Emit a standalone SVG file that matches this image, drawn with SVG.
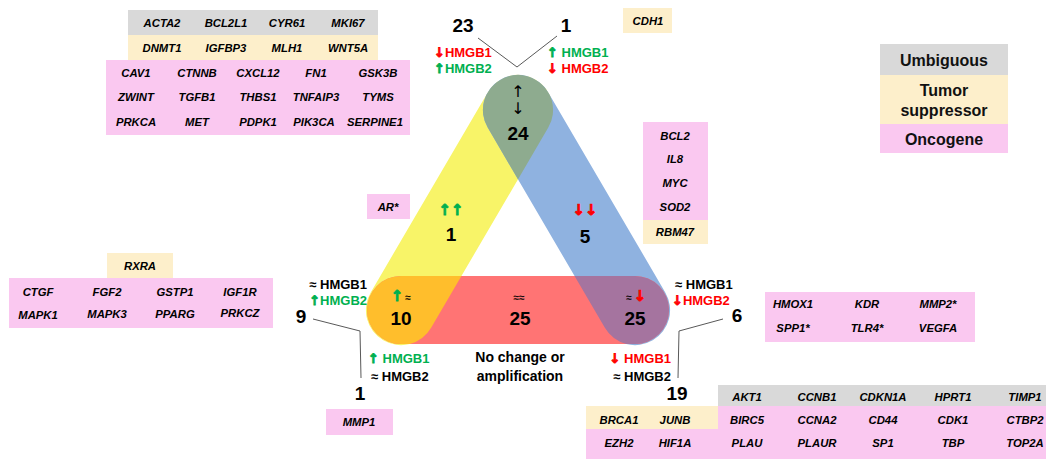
<svg xmlns="http://www.w3.org/2000/svg" width="1046" height="459" viewBox="0 0 1046 459">
<style>
.gn{font-family:"Liberation Sans",Arial,sans-serif;font-size:11.3px;font-weight:bold;font-style:italic;fill:#000;text-anchor:middle;dominant-baseline:central}
.num{font-family:"Liberation Sans",Arial,sans-serif;font-size:19px;font-weight:bold;fill:#000;text-anchor:middle;dominant-baseline:central}
.lab{font-family:"Liberation Sans",Arial,sans-serif;font-size:13px;font-weight:bold;dominant-baseline:central}
.ar{font-family:"DejaVu Sans",sans-serif;font-size:13px;font-weight:bold;stroke-width:0.8}
.arr{font-family:"DejaVu Sans",sans-serif;font-size:15px;font-weight:bold;text-anchor:middle;dominant-baseline:central;stroke-width:0.8}
.sm{font-family:"Liberation Sans",Arial,sans-serif;font-size:10px;font-weight:bold;text-anchor:middle;dominant-baseline:central}
.leg{font-family:"Liberation Sans",Arial,sans-serif;font-size:16px;font-weight:bold;fill:#111;text-anchor:middle;dominant-baseline:central}
.gray{fill:#d9d9d9}.beige{fill:#fdefcb}.pink{fill:#fac8f0}
.red{fill:#ff0000}.grn{fill:#00b050}.blk{fill:#000}
.red .ar,.arr.red{stroke:#ff0000}.grn .ar,.arr.grn{stroke:#00b050}
.lead{fill:none;stroke:#595959;stroke-width:1}
</style>
<defs>
<rect id="pY" x="-151" y="-35" width="302" height="70" rx="35" transform="translate(459.5 210) rotate(-59.67)"/>
<rect id="pB" x="-151" y="-35" width="302" height="70" rx="35" transform="translate(576.5 210) rotate(59.67)"/>
<rect id="pR" x="367" y="276" width="302" height="68" rx="34"/>
<clipPath id="cY"><use href="#pY"/></clipPath>
<clipPath id="cB"><use href="#pB"/></clipPath>
</defs>
<rect width="1046" height="459" fill="#fff"/>

<g id="venn">
<use href="#pY" fill="#f8f468"/>
<use href="#pB" fill="#8fb2e0"/>
<use href="#pR" fill="#ff7474"/>
<use href="#pB" fill="#8eab8f" clip-path="url(#cY)"/>
<use href="#pR" fill="#ffbe2c" clip-path="url(#cY)"/>
<use href="#pR" fill="#a5749f" clip-path="url(#cB)"/>
</g>

<g id="regions">
<text class="arr blk" x="518" y="91" style="font-weight:normal;font-size:16px">↑</text>
<text class="arr blk" x="518" y="108" style="font-weight:normal;font-size:16px">↓</text>
<text class="num" x="518" y="133">24</text>
<text class="arr grn" x="451" y="210">↑↑</text>
<text class="num" x="451" y="234">1</text>
<text class="arr red" x="585" y="210">↓↓</text>
<text class="num" x="585" y="236">5</text>
<text class="arr grn" x="397" y="296">↑</text><text class="sm blk" x="408" y="297">≈</text>
<text class="sm blk" x="519" y="297">≈≈</text>
<text class="sm blk" x="629" y="297">≈</text><text class="arr red" x="640" y="296">↓</text>
<text class="num" x="401" y="318">10</text>
<text class="num" x="520" y="318">25</text>
<text class="num" x="635" y="318">25</text>
<text class="lab blk" x="520" y="357" text-anchor="middle" style="font-size:14px">No change or</text>
<text class="lab blk" x="520" y="376" text-anchor="middle" style="font-size:14px">amplification</text>
</g>

<g id="connectors">
<polyline class="lead" points="478,38 517,67 557,36"/>
<polyline class="lead" points="313,319 360,331 361,378"/>
<polyline class="lead" points="723,319 679,331 678,378"/>
</g>

<g id="label-top-left">
<text class="num" x="463" y="25">23</text>
<text class="lab red" x="434" y="52"><tspan class="ar">↓</tspan>HMGB1</text>
<text class="lab grn" x="434" y="68"><tspan class="ar">↑</tspan>HMGB2</text>
</g>
<g id="label-top-right">
<text class="num" x="566" y="25">1</text>
<text class="lab grn" x="547" y="52"><tspan class="ar">↑</tspan> HMGB1</text>
<text class="lab red" x="547" y="68"><tspan class="ar">↓</tspan> HMGB2</text>
</g>
<g id="label-left">
<text class="lab blk" x="367" y="284" text-anchor="end">≈ HMGB1</text>
<text class="lab grn" x="367" y="300" text-anchor="end"><tspan class="ar">↑</tspan>HMGB2</text>
<text class="num" x="301" y="316">9</text>
</g>
<g id="label-bottom-left">
<text class="lab grn" x="368" y="358"><tspan class="ar">↑</tspan> HMGB1</text>
<text class="lab blk" x="371" y="376">≈ HMGB2</text>
<text class="num" x="360" y="393">1</text>
</g>
<g id="label-right">
<text class="lab blk" x="675" y="284">≈ HMGB1</text>
<text class="lab red" x="672" y="300"><tspan class="ar">↓</tspan>HMGB2</text>
<text class="num" x="737" y="315">6</text>
</g>
<g id="label-bottom-right">
<text class="lab red" x="671" y="358" text-anchor="end"><tspan class="ar">↓</tspan> HMGB1</text>
<text class="lab blk" x="671" y="376" text-anchor="end">≈ HMGB2</text>
<text class="num" x="677" y="393">19</text>
</g>

<g id="table-top-left">
<rect class="gray" x="128" y="10" width="250" height="25"/>
<rect class="beige" x="128" y="35" width="250" height="25"/>
<rect class="pink" x="106" y="60" width="304" height="75"/>
<text class="gn" x="162" y="23">ACTA2</text><text class="gn" x="226" y="23">BCL2L1</text><text class="gn" x="287" y="23">CYR61</text><text class="gn" x="348" y="23">MKI67</text>
<text class="gn" x="162" y="48">DNMT1</text><text class="gn" x="226" y="48">IGFBP3</text><text class="gn" x="287" y="48">MLH1</text><text class="gn" x="348" y="48">WNT5A</text>
<text class="gn" x="136" y="73">CAV1</text><text class="gn" x="197" y="73">CTNNB</text><text class="gn" x="258" y="73">CXCL12</text><text class="gn" x="316" y="73">FN1</text><text class="gn" x="378" y="73">GSK3B</text>
<text class="gn" x="136" y="97">ZWINT</text><text class="gn" x="197" y="97">TGFB1</text><text class="gn" x="258" y="97">THBS1</text><text class="gn" x="316" y="97">TNFAIP3</text><text class="gn" x="378" y="97">TYMS</text>
<text class="gn" x="136" y="122">PRKCA</text><text class="gn" x="197" y="122">MET</text><text class="gn" x="258" y="122">PDPK1</text><text class="gn" x="314" y="122">PIK3CA</text><text class="gn" x="375" y="122">SERPINE1</text>
</g>

<g id="box-cdh1">
<rect class="beige" x="623" y="8" width="49" height="25"/>
<text class="gn" x="648" y="21">CDH1</text>
</g>

<g id="box-down-down">
<rect class="pink" x="643" y="122" width="65" height="98"/>
<rect class="beige" x="643" y="220" width="65" height="24"/>
<text class="gn" x="675" y="136">BCL2</text>
<text class="gn" x="675" y="159">IL8</text>
<text class="gn" x="675" y="183">MYC</text>
<text class="gn" x="675" y="207">SOD2</text>
<text class="gn" x="675" y="232">RBM47</text>
</g>

<g id="box-ar">
<rect class="pink" x="367" y="194" width="43" height="25"/>
<text class="gn" x="388" y="207">AR*</text>
</g>

<g id="table-left">
<rect class="beige" x="107" y="253" width="66" height="25"/>
<rect class="pink" x="9" y="278" width="264" height="50"/>
<text class="gn" x="140" y="266">RXRA</text>
<text class="gn" x="38" y="292">CTGF</text><text class="gn" x="107" y="292">FGF2</text><text class="gn" x="175" y="292">GSTP1</text><text class="gn" x="240" y="292">IGF1R</text>
<text class="gn" x="38" y="315">MAPK1</text><text class="gn" x="107" y="314">MAPK3</text><text class="gn" x="175" y="314">PPARG</text><text class="gn" x="240" y="313">PRKCZ</text>
</g>

<g id="box-mmp1">
<rect class="pink" x="326" y="409" width="67" height="26"/>
<text class="gn" x="359" y="422">MMP1</text>
</g>

<g id="table-right">
<rect class="pink" x="765" y="292" width="210" height="50"/>
<text class="gn" x="793" y="304">HMOX1</text><text class="gn" x="867" y="304">KDR</text><text class="gn" x="938" y="304">MMP2*</text>
<text class="gn" x="793" y="328">SPP1*</text><text class="gn" x="867" y="328">TLR4*</text><text class="gn" x="938" y="328">VEGFA</text>
</g>

<g id="table-bottom-right">
<rect class="gray" x="718" y="385" width="328" height="21"/>
<rect class="beige" x="586" y="406" width="132" height="23"/>
<rect class="pink" x="718" y="406" width="328" height="23"/>
<rect class="pink" x="586" y="429" width="460" height="30"/>
<text class="gn" x="747" y="397">AKT1</text><text class="gn" x="817" y="397">CCNB1</text><text class="gn" x="883" y="397">CDKN1A</text><text class="gn" x="953" y="397">HPRT1</text><text class="gn" x="1025" y="397">TIMP1</text>
<text class="gn" x="619" y="420">BRCA1</text><text class="gn" x="675" y="420">JUNB</text><text class="gn" x="747" y="420">BIRC5</text><text class="gn" x="817" y="420">CCNA2</text><text class="gn" x="883" y="420">CD44</text><text class="gn" x="953" y="420">CDK1</text><text class="gn" x="1025" y="420">CTBP2</text>
<text class="gn" x="619" y="443">EZH2</text><text class="gn" x="675" y="443">HIF1A</text><text class="gn" x="747" y="443">PLAU</text><text class="gn" x="817" y="443">PLAUR</text><text class="gn" x="883" y="443">SP1</text><text class="gn" x="953" y="443">TBP</text><text class="gn" x="1025" y="443">TOP2A</text>
</g>

<g id="legend">
<rect class="gray" x="880" y="44" width="128" height="31"/>
<rect class="beige" x="880" y="75" width="128" height="49"/>
<rect class="pink" x="880" y="124" width="128" height="29"/>
<text class="leg" x="944" y="60">Umbiguous</text>
<text class="leg" x="944" y="90">Tumor</text>
<text class="leg" x="944" y="110">suppressor</text>
<text class="leg" x="944" y="139">Oncogene</text>
</g>
</svg>
